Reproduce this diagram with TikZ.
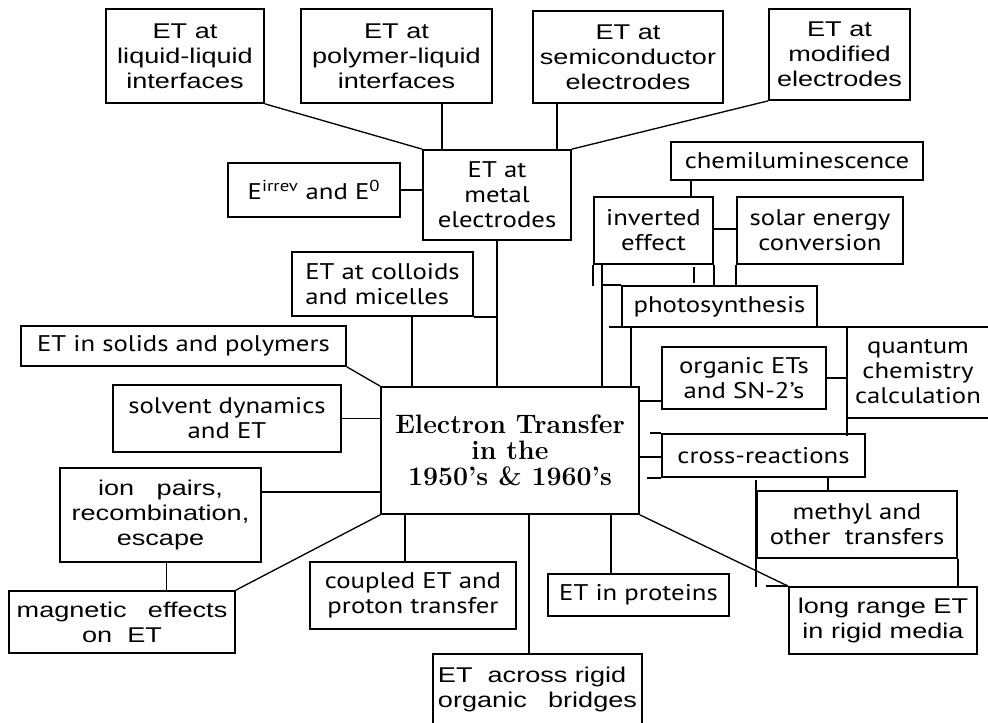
\documentclass[tikz,border=0pt]{standalone}
\usepackage{fontspec}
\newfontfamily\arl[FakeStretch=1.27]{Liberation Sans}
\newfontfamily\opt[FakeStretch=1.18]{PT Sans}
\usetikzlibrary{calc}
\tikzset{
  box/.style={draw, line width=1.3pt, inner sep=0pt, align=center},
  ar/.style={font=\arl\fontsize{16}{18.75}\selectfont},
  op/.style={font=\opt\fontsize{17}{18.75}\selectfont},
  cn/.style={font=\bfseries\fontsize{20}{19.5}\selectfont},
  ln/.style={line width=1pt},
}
\newcommand\mybox[7]{%
  \node[box,#6,minimum width={(#4-#2)*0.75pt},minimum height={(#5-#3)*0.75pt}]
    (#1) at ({(#2+#4)/2},{(#3+#5)/2}) {#7};}
\begin{document}
\begin{tikzpicture}[x=0.75pt,y=-0.75pt]
\useasboundingbox (0,0) rectangle (988,723);
% boxes
\mybox{liq}{106}{9}{264}{103}{ar}{ET at\\liquid-liquid\\interfaces}
\mybox{poly}{301}{9}{492}{103}{ar}{ET at\\polymer-liquid\\interfaces}
\mybox{semi}{533}{11}{723}{103}{ar}{ET at\\semiconductor\\electrodes}
\mybox{mod}{769}{9}{910}{100}{ar}{ET at\\modified\\electrodes}
\mybox{metal}{423}{150}{571}{240}{op}{ET at\\metal\\electrodes}
\mybox{e0}{228}{163}{400}{217}{op}{E\textsuperscript{irrev} and E\textsuperscript{0}}
\mybox{chemi}{671}{142}{923}{180}{op}{chemiluminescence}
\mybox{inv}{594}{197}{713}{264}{op}{inverted\\effect}
\mybox{solar}{737}{197}{903}{264}{op}{solar energy\\conversion}
\mybox{photo}{622}{286}{817}{327}{op}{photosynthesis}
\mybox{org}{662}{347}{826}{409}{op}{organic ETs\\and SN-2’s}
\mybox{cross}{662}{434}{865}{477}{op}{cross-reactions}
\mybox{methyl}{757}{491}{957}{558}{op}{methyl and\\other\ \ transfers}
\mybox{long}{789}{587}{977}{654}{ar}{long range ET\\in rigid media}
\mybox{prot}{548}{574}{729}{616}{op}{ET in proteins}
\mybox{bridge}{433}{654}{642}{724}{ar,align=left}{ET\ \ across rigid\\organic\quad bridges}
\mybox{coupled}{310}{562}{516}{629}{op}{coupled ET and\\proton transfer}
\mybox{mag}{9}{591}{235}{653}{ar}{magnetic\quad effects\\on\ \ ET}
\mybox{ion}{60}{468}{261}{562}{ar}{ion\ \ \ pairs,\\recombination,\\escape}
\mybox{solv}{113}{385}{341}{452}{op}{solvent dynamics\\and ET}
\mybox{solid}{21}{326}{346}{366}{op}{ET in solids and polymers}
\mybox{coll}{292}{252}{473}{316}{op,align=left}{ET at colloids\\and micelles}
\mybox{cen}{381}{387}{639}{514}{cn}{Electron Transfer\\in the\\1950’s \& 1960’s}
\node[op,align=center,inner sep=0pt] (quant) at (918,372) {quantum\\chemistry\\calculation};
% connection points
\coordinate (cpoly) at ($(metal.north west)+(20,0)$);
\coordinate (csemi) at ($(metal.north west)+(135,0)$);
\coordinate (ccoll) at ($(coll.south west)+(121,0)$);
\coordinate (cion) at ($(ion.north east)+(0,25)$);
\coordinate (cion2) at ($(ion.south)+(6,0)$);
\coordinate (ccp) at ($(cen.south west)+(25,0)$);
\coordinate (cbr) at ($(cen.south west)+(149,0)$);
\coordinate (cpr) at ($(cen.south west)+(231,0)$);
\coordinate (ccm) at ($(cross.south east)+(-38,0)$);
\coordinate (ccc) at ($(cen.north east)+(0,71)$);
\coordinate (cco) at ($(cen.north east)+(0,15)$);
\coordinate (qA) at (847,327);
\coordinate (qB) at (847,436);
\coordinate (qC) at (847,418);
\coordinate (qR1) at (988,327);
\coordinate (qR2) at (988,418);
\coordinate (qL) at (609,327);
\coordinate (cph) at (631,327);
\coordinate (civ) at ($(inv.south west)+(9,0)$);
\coordinate (cst1) at (694,267);
\coordinate (cst2) at (694,283);
\coordinate (cis) at ($(inv.north east)+(0,33)$);
\coordinate (cch) at ($(chemi.south west)+(21,0)$);
% connectors
\draw[ln] (liq.south east) -- (metal.north west);
\draw[ln] (cpoly) -- (cpoly |- poly.south);
\draw[ln] (csemi) -- (csemi |- semi.south);
\draw[ln] (mod.south west) -- (metal.north east);
\draw[ln] (e0.east) -- (e0.east -| metal.west);
\draw[ln] (metal.south) -- (metal.south |- cen.north);
\draw[ln] (coll.south east) -- (coll.south east -| metal.south);
\draw[ln] (ccoll) -- (ccoll |- cen.north);
\draw[ln] (solid.south east) -- (cen.north west);
\draw[ln] (solv.east) -- (solv.east -| cen.west);
\draw[ln] (cion) -- (cion -| cen.west);
\draw[ln] (cion2) -- (cion2 |- mag.north);
\draw[ln] (mag.north east) -- (cen.south west);
\draw[ln] (ccp) -- (ccp |- coupled.north);
\draw[ln] (cbr) -- (cbr |- bridge.north);
\draw[ln] (cpr) -- (cpr |- prot.north);
\draw[ln] (cen.south east) -- (long.north west);
\draw[ln] (long.north west) -- ++(-22,0);
\draw[ln] ($(methyl.north west)+(0,-10)$) -- ($(methyl.south west)+(0,28)$);
\draw[ln] (methyl.south east) -- (methyl.south east |- long.north);
\draw[ln] (ccm) -- (ccm |- methyl.north);
\draw[ln] (ccc) -- (ccc -| cross.west);
\draw[ln] (cross.north west) -- ++(-11,0);
\draw[ln] (cross.south west) -- ++(-14,0);
\draw[ln] (cco) -- (cco -| org.west);
\draw[ln] (org.east) -- (org.east -| qA);
\draw[ln] (qL) -- (qR1);
\draw[ln] (qA) -- (qB);
\draw[ln] (qC) -- (qR2);
\draw[ln] (cph) -- (cph |- cen.north);
\draw[ln] (civ) -- (civ |- cen.north);
\draw[ln] (inv.south west) -- ++(0,21);
\draw[ln] (civ |- photo.north) -- (photo.north west);
\draw[ln] (cst1) -- (cst2);
\draw[ln] (inv.south east) -- (inv.south east |- photo.north);
\draw[ln] (solar.south west) -- (solar.south west |- photo.north);
\draw[ln] (cis) -- (cis -| solar.west);
\draw[ln] (cch) -- (cch |- inv.north);
\end{tikzpicture}
\end{document}
